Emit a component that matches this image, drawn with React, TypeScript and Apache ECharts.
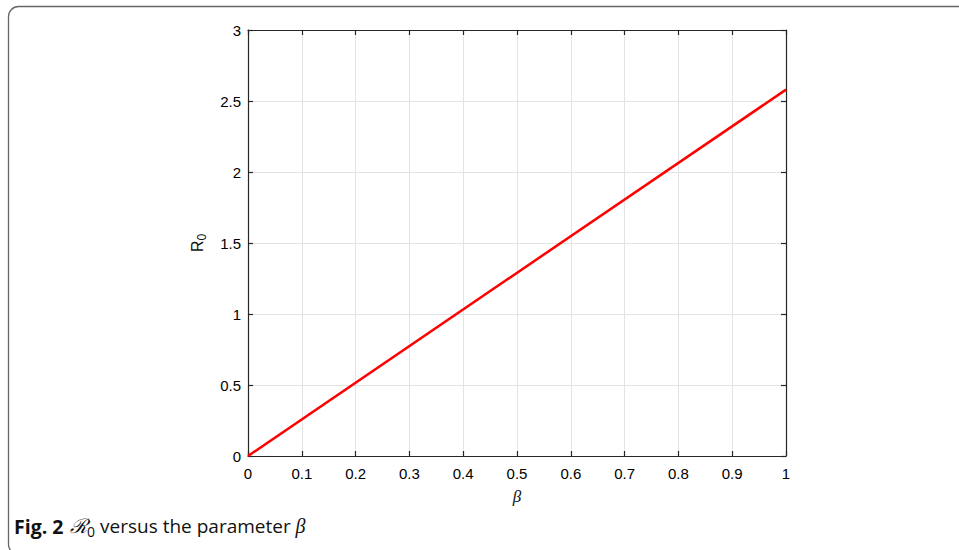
import React, { useEffect, useRef } from "react";
import * as echarts from "echarts";

// Basic reproduction number as a function of the transmission rate beta
const betaValues: number[] = [0, 1];
const r0Values: number[] = [0, 2.58];

const xTicks: number[] = [0, 0.1, 0.2, 0.3, 0.4, 0.5, 0.6, 0.7, 0.8, 0.9, 1];
const yTicks: number[] = [0, 0.5, 1, 1.5, 2, 2.5, 3];

const AXIS_FONT = "Liberation Sans";
const SERIF = "Liberation Serif";
const CAPTION_FONT = "Open Sans";

export default function App() {
  const ref = useRef<HTMLDivElement>(null);

  useEffect(() => {
    if (!ref.current) return;
    const chart = echarts.init(ref.current, undefined, { renderer: "svg" });

    const axisLineStyle = { color: "#262626", width: 1.2 };
    const fmt = (v: number) => String(Math.round(v * 10) / 10);

    chart.setOption({
      animation: false,
      backgroundColor: "#ffffff",
      grid: { left: 248, right: 173, top: 30, bottom: 94, containLabel: false },
      xAxis: [
        {
          type: "value",
          min: xTicks[0],
          max: xTicks[xTicks.length - 1],
          interval: 0.1,
          position: "bottom",
          name: "β",
          nameLocation: "middle",
          nameGap: 32,
          nameTextStyle: { fontFamily: SERIF, fontStyle: "italic", fontSize: 17, color: "#111111" },
          axisLine: { show: true, onZero: false, lineStyle: axisLineStyle },
          axisTick: { show: true, inside: true, length: 5, lineStyle: axisLineStyle },
          axisLabel: { margin: 10, fontFamily: AXIS_FONT, fontSize: 15, color: "#000000", formatter: fmt },
          splitLine: { show: true, lineStyle: { color: "#e3e3e3", width: 1 } },
        },
        {
          type: "value",
          min: xTicks[0],
          max: xTicks[xTicks.length - 1],
          interval: 0.1,
          position: "top",
          axisLine: { show: true, onZero: false, lineStyle: axisLineStyle },
          axisTick: { show: true, inside: true, length: 5, lineStyle: axisLineStyle },
          axisLabel: { show: false },
          splitLine: { show: false },
        },
      ],
      yAxis: [
        {
          type: "value",
          min: yTicks[0],
          max: yTicks[yTicks.length - 1],
          interval: 0.5,
          position: "left",
          name: "{r|R}{s|0}",
          nameLocation: "middle",
          nameRotate: 90,
          nameGap: 40,
          nameTextStyle: {
            rich: {
              r: { fontFamily: AXIS_FONT, fontSize: 16, color: "#111111", lineHeight: 22 },
              s: { fontFamily: AXIS_FONT, fontSize: 12, color: "#111111", lineHeight: 10, verticalAlign: "bottom" },
            },
          },
          axisLine: { show: true, onZero: false, lineStyle: axisLineStyle },
          axisTick: { show: true, inside: true, length: 5, lineStyle: axisLineStyle },
          axisLabel: { margin: 7, fontFamily: AXIS_FONT, fontSize: 15, color: "#000000", formatter: fmt },
          splitLine: { show: true, lineStyle: { color: "#e3e3e3", width: 1 } },
        },
        {
          type: "value",
          min: yTicks[0],
          max: yTicks[yTicks.length - 1],
          interval: 0.5,
          position: "right",
          axisLine: { show: true, onZero: false, lineStyle: axisLineStyle },
          axisTick: { show: true, inside: true, length: 5, lineStyle: axisLineStyle },
          axisLabel: { show: false },
          splitLine: { show: false },
        },
      ],
      series: [
        {
          type: "line",
          data: betaValues.map((b, i) => [b, r0Values[i]]),
          showSymbol: false,
          lineStyle: { color: "#ff0000", width: 2.5 },
          z: 5,
        },
      ],
      graphic: [
        {
          type: "rect",
          shape: { x: 8.5, y: 6.5, width: 1000, height: 548, r: 10 },
          style: { fill: "none", stroke: "#666666", lineWidth: 1.3 },
          silent: true,
        },
        {
          type: "text",
          left: 14,
          top: 516,
          style: {
            text: "{b|Fig. 2}  {r|ℛ}{s|0}{t| versus the parameter }{g|β}",
            rich: {
              b: { fontFamily: CAPTION_FONT, fontWeight: "bold", fontSize: 19.5, fill: "#111111", lineHeight: 25 },
              r: { fontFamily: "DejaVu Serif", fontStyle: "italic", fontSize: 20, fill: "#111111", lineHeight: 25 },
              s: { fontFamily: CAPTION_FONT, fontSize: 14, fill: "#111111", lineHeight: 12, verticalAlign: "bottom" },
              t: { fontFamily: CAPTION_FONT, fontSize: 19, fill: "#111111", lineHeight: 25 },
              g: { fontFamily: SERIF, fontStyle: "italic", fontSize: 20, fill: "#111111", lineHeight: 25 },
            },
          },
        },
      ],
    });

    return () => chart.dispose();
  }, []);

  return <div ref={ref} style={{ width: 959, height: 550, position: "absolute", left: 0, top: 0 }} />;
}
